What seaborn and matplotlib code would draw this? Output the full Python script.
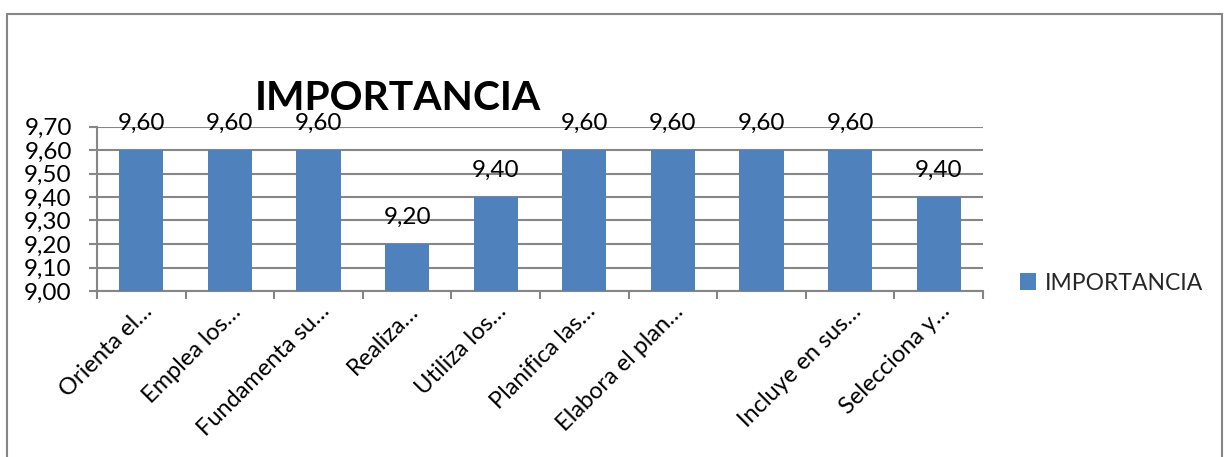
import matplotlib
matplotlib.use("Agg")
import matplotlib.pyplot as plt
from matplotlib.patches import Rectangle, Patch
from matplotlib.ticker import FuncFormatter, FixedLocator, NullFormatter
from matplotlib.transforms import ScaledTranslation
import numpy as np
import pandas as pd
import seaborn as sns

categorias = ["Orienta el…", "Emplea los…", "Fundamenta su…", "Realiza…",
              "Utiliza los…", "Planifica las…", "Elabora el plan…", "",
              "Incluye en sus…", "Selecciona y…"]
valores = [9.60, 9.60, 9.60, 9.20, 9.40, 9.60, 9.60, 9.60, 9.60, 9.40]
serie = "IMPORTANCIA"
y_ticks = [9.00, 9.10, 9.20, 9.30, 9.40, 9.50, 9.60, 9.70]

sns.set_theme(style="white")
plt.rcParams["font.family"] = ["Lato", "DejaVu Sans"]

AZUL = "#4F81BD"
GRIS = "#868686"
W, H = 1232, 457

fig = plt.figure(figsize=(W / 100, H / 100), dpi=100)
fig.patch.set_facecolor("white")

# chart-area frame
fig.patches.append(Rectangle((7 / W, -0.05), (1222 - 7) / W, 1.05 - 14 / H,
                             transform=fig.transFigure, fill=False,
                             edgecolor=GRIS, linewidth=1.5))

ax = fig.add_axes([97 / W, 1 - 291 / H, (983 - 97) / W, (291 - 126.5) / H])

df = pd.DataFrame({"cat": [f"c{i}" for i in range(len(categorias))],
                   "valor": valores, "serie": serie})
sns.barplot(data=df, x="cat", y="valor", hue="serie", palette=[AZUL],
            dodge=False, width=0.5, legend=False, ax=ax, saturation=1,
            linewidth=0, zorder=3)

ax.set_ylim(y_ticks[0], y_ticks[-1])
ax.set_xlim(-0.5, len(categorias) - 0.5)
ax.set_yticks(y_ticks)
ax.yaxis.set_major_formatter(FuncFormatter(lambda v, p: f"{v:.2f}".replace(".", ",")))
ax.grid(axis="y", color=GRIS, linewidth=1.5, zorder=0)
ax.set_axisbelow(True)
ax.set_xlabel("")
ax.set_ylabel("")

# category labels hang from the category centre, tick marks between categories
ax.set_xticks(range(len(categorias)))
ax.set_xticklabels(categorias, rotation=45, ha="right", va="top",
                   rotation_mode="anchor", fontsize=17, color="black")
shift = ScaledTranslation(8 / 100, 0, fig.dpi_scale_trans)
for lab in ax.get_xticklabels():
    lab.set_transform(lab.get_transform() + shift)
ax.xaxis.set_minor_locator(FixedLocator(np.arange(-0.5, len(categorias), 1.0)))
ax.xaxis.set_minor_formatter(NullFormatter())
ax.tick_params(axis="x", which="major", length=0, pad=7)
ax.tick_params(axis="x", which="minor", length=5.8, width=1.5, color=GRIS,
               direction="out", bottom=True)
ax.tick_params(axis="y", which="major", length=5.6, width=1.5, color=GRIS,
               direction="out", left=True, labelsize=17.5, pad=12.5,
               labelcolor="black")

for s in ["top", "right"]:
    ax.spines[s].set_visible(False)
for s in ["left", "bottom"]:
    ax.spines[s].set_color(GRIS)
    ax.spines[s].set_linewidth(1.5)

for i, v in enumerate(valores):
    ax.annotate(f"{v:.2f}".replace(".", ","), xy=(i, v), xytext=(0, 14.5),
                textcoords="offset points", ha="center", va="baseline",
                fontsize=17.5, color="black", annotation_clip=False, zorder=5)

fig.text(398 / W, 1 - 110 / H, serie, ha="center", va="baseline",
         fontsize=29.3, fontweight="bold", color="black")

fig.legend(handles=[Patch(facecolor=AZUL, edgecolor="none", label=serie)],
           loc="center left", bbox_to_anchor=(1020 / W, 1 - 283 / H),
           frameon=False, fontsize=16.5, handlelength=0.7, handleheight=0.7,
           handletextpad=0.4, borderaxespad=0, borderpad=0)

fig.savefig("out.png", dpi=100, facecolor="white")
